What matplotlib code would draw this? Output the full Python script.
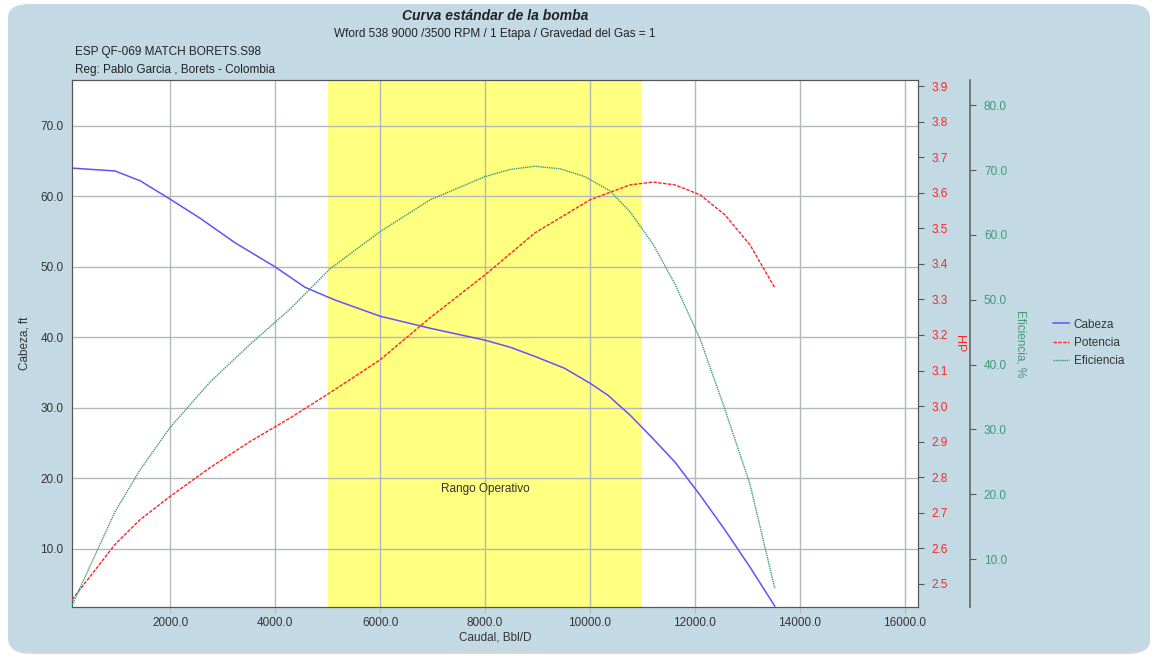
import matplotlib
matplotlib.use("Agg")
import matplotlib.pyplot as plt
from matplotlib.patches import FancyBboxPatch

plt.rcParams['font.family'] = ['Liberation Sans', 'DejaVu Sans']
plt.rcParams['font.size'] = 8.5

# caudal (Bbl/D)
caudal = [133, 950, 1430, 2000, 2570, 3240, 4000, 4570, 5140, 6000, 6950, 8000,
          8480, 8950, 9520, 10000, 10340, 10760, 11180, 11620, 12100, 12570, 13050, 13520]
cabeza = [64.0, 63.6, 62.2, 59.6, 56.9, 53.4, 50.0, 47.1, 45.3, 43.0, 41.3, 39.6,
          38.6, 37.3, 35.6, 33.5, 31.8, 29.0, 25.8, 22.3, 17.6, 12.7, 7.4, 1.9]

caudal_hp = [133, 950, 1430, 2000, 2760, 3520, 4290, 5050, 6000, 6950, 8000, 8950,
             10000, 10760, 11200, 11620, 12100, 12570, 13050, 13520]
potencia = [2.456, 2.611, 2.681, 2.746, 2.827, 2.900, 2.967, 3.038, 3.130, 3.248,
            3.369, 3.487, 3.580, 3.622, 3.630, 3.622, 3.594, 3.538, 3.453, 3.333]

caudal_ef = [133, 950, 1430, 2000, 2760, 3520, 4290, 5050, 6000, 6950, 8000, 8480,
             8950, 9430, 9900, 10380, 10760, 11200, 11620, 12100, 12570, 13050, 13520]
eficiencia = [2.9, 17.3, 23.8, 30.3, 37.3, 43.1, 48.6, 54.8, 60.5, 65.4, 69.0, 70.1,
              70.6, 70.2, 69.0, 66.8, 63.6, 58.6, 52.4, 43.9, 33.1, 21.5, 5.5]

rango = [5000, 11000]
x_ticks = [2000, 4000, 6000, 8000, 10000, 12000, 14000, 16000]
cab_ticks = [10, 20, 30, 40, 50, 60, 70]
hp_ticks = [2.5, 2.6, 2.7, 2.8, 2.9, 3.0, 3.1, 3.2, 3.3, 3.4, 3.5, 3.6, 3.7, 3.8, 3.9]
ef_ticks = [10, 20, 30, 40, 50, 60, 70, 80]

c_cab = '#6b4dff'
c_pot = '#ff2424'
c_ef = '#3f9a74'
c_txt = '#333333'
bg = '#c3dae5'

fig = plt.figure(figsize=(11.52, 6.56), dpi=100)
fig.patch.set_facecolor('white')
# panel de fondo redondeado
shadow = FancyBboxPatch((9 / 1152, 2 / 656), 1141 / 1152, 648 / 656,
                        boxstyle='round,pad=0,rounding_size=0.02',
                        transform=fig.transFigure, facecolor='#d8d8d8',
                        edgecolor='none', zorder=-11)
panel = FancyBboxPatch((8 / 1152, 4 / 656), 1142 / 1152, 648 / 656,
                       boxstyle='round,pad=0,rounding_size=0.02',
                       transform=fig.transFigure, facecolor=bg,
                       edgecolor='none', zorder=-10)
fig.patches.append(shadow)
fig.patches.append(panel)

ax = fig.add_axes([72 / 1152, 1 - 607 / 656, 846 / 1152, 527 / 656])
ax.set_facecolor('white')
ax.axvspan(rango[0], rango[1], color='#ffff80', zorder=0, lw=0)
ax.grid(True, color='#b4b8bc', lw=1, zorder=1)
ax.set_axisbelow(True)

ln1, = ax.plot(caudal, cabeza, color=c_cab, lw=1.1, zorder=3, label='Cabeza')
ax.set_xlim(130, 16250)
ax.set_ylim(1.76, 76.5)
ax.set_xticks(x_ticks)
ax.set_xticklabels(['{:.1f}'.format(v) for v in x_ticks])
ax.set_yticks(cab_ticks)
ax.set_yticklabels(['{:.1f}'.format(v) for v in cab_ticks])
ax.tick_params(axis='y', length=0, pad=6, colors=c_txt)
ax.tick_params(axis='x', length=4, color='#b4b8bc', pad=3, colors=c_txt)
ax.set_xlabel('Caudal, Bbl/D', color=c_txt, labelpad=2)
for s in ax.spines.values():
    s.set_color('#555555')
ax.text(8000, 18.5, 'Rango Operativo', ha='center', va='center', color=c_txt)
ax.text(-0.0556, 0.5, 'Cabeza, ft', transform=ax.transAxes, rotation=90,
        ha='center', va='center', color=c_txt)

ax2 = ax.twinx()
ln2, = ax2.plot(caudal_hp, potencia, color=c_pot, lw=1, ls=(0, (2.5, 1)), zorder=3, label='Potencia')
ax2.set_ylim(2.435, 3.917)
ax2.set_yticks(hp_ticks)
ax2.set_yticklabels(['{:.1f}'.format(v) for v in hp_ticks])
ax2.tick_params(axis='y', colors=c_pot, length=4, pad=6)
ax2.tick_params(axis='y', color='#555555')
for s in ax2.spines.values():
    s.set_color('#555555')
ax2.text(1.0485, 0.5, 'HP', transform=ax2.transAxes, rotation=270,
         ha='center', va='center', color=c_pot, fontsize=9)

ax3 = ax.twinx()
ax3.spines['right'].set_position(('axes', 1.0615))
ax3.spines['right'].set_color('#666666')
ax3.spines['right'].set_linewidth(1.2)
for k in ['top', 'bottom', 'left']:
    ax3.spines[k].set_visible(False)
ln3, = ax3.plot(caudal_ef, eficiencia, color=c_ef, lw=1, ls=(0, (1, 0.6)), zorder=3, label='Eficiencia')
ax3.set_ylim(2.6, 83.9)
ax3.set_yticks(ef_ticks)
ax3.set_yticklabels(['{:.1f}'.format(v) for v in ef_ticks])
ax3.tick_params(axis='y', colors=c_ef, length=4, pad=6)
ax3.tick_params(axis='y', color='#555555')
ax3.text(1.1206, 0.5, 'Eficiencia, %', transform=ax3.transAxes, rotation=270,
         ha='center', va='center', color=c_ef)

fig.legend([ln1, ln2, ln3], ['Cabeza', 'Potencia', 'Eficiencia'],
           loc='center left', bbox_to_anchor=(1042 / 1152, 1 - 343 / 656),
           frameon=False, handlelength=1.4, handletextpad=0.4,
           labelspacing=0.55, labelcolor=c_txt)

fig.text(495 / 1152, 1 - 16 / 656, 'Curva estándar de la bomba', ha='center', va='center',
         fontsize=10, fontweight='bold', style='italic', color='#222222')
fig.text(495 / 1152, 1 - 34 / 656, 'Wford 538 9000 /3500 RPM / 1 Etapa / Gravedad del Gas = 1',
         ha='center', va='center', color='#222222')
fig.text(75 / 1152, 1 - 52 / 656, 'ESP QF-069 MATCH BORETS.S98', ha='left', va='center', color='#222222')
fig.text(75 / 1152, 1 - 70 / 656, 'Reg: Pablo Garcia , Borets - Colombia', ha='left', va='center', color='#222222')

fig.savefig('out.png', dpi=100, facecolor=fig.get_facecolor())
